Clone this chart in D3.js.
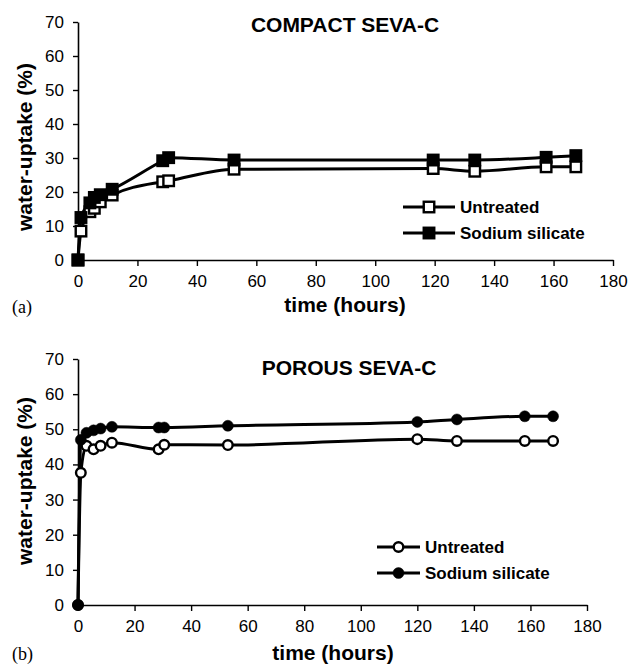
<!DOCTYPE html>
<html>
<head>
<meta charset="utf-8">
<script src="https://cdn.jsdelivr.net/npm/d3@7/dist/d3.min.js"></script>
<style>
  html, body { margin: 0; padding: 0; background: #fff; }
  svg { display: block; }
  text { fill: #000; }
</style>
</head>
<body>
<svg id="chart" width="631" height="664"></svg>
<script>
// ---------- data ----------
const seriesNames = ["Untreated", "Sodium silicate"];

const timeCompact = [0, 1, 4, 5.5, 7.5, 11.5, 28.5, 30.5, 52.5, 119.5, 133.5, 157.5, 167.5];
const compactUntreated = [0, 8.5, 14.2, 15.2, 17.1, 19.1, 23.0, 23.3, 26.7, 26.9, 26.1, 27.4, 27.4];
const compactSilicate  = [0, 12.5, 16.8, 18.4, 19.2, 20.8, 29.2, 30.1, 29.4, 29.4, 29.4, 30.2, 30.7];

const timePorous = [0, 1, 3, 5.5, 8, 12, 28.5, 30.5, 53, 120, 134, 158, 168];
const porousUntreated = [0, 37.6, 45.3, 44.3, 45.3, 46.2, 44.3, 45.6, 45.5, 47.2, 46.7, 46.7, 46.7];
const porousSilicate  = [0, 47.0, 49.0, 49.7, 50.2, 50.7, 50.5, 50.5, 51.0, 52.1, 52.8, 53.7, 53.7];

const xTicks = [0, 20, 40, 60, 80, 100, 120, 140, 160, 180];
const yTicks = [0, 10, 20, 30, 40, 50, 60, 70];

const titles = ["COMPACT SEVA-C", "POROUS SEVA-C"];
const panelLabels = ["(a)", "(b)"];
const xTitle = "time (hours)";
const yTitle = "water-uptake (%)";

// ---------- drawing ----------
const svg = d3.select("#chart");
const SANS = "'Liberation Sans', Arial, Helvetica, sans-serif";
const SERIF = "'Liberation Serif', 'Times New Roman', serif";

function squareSym(g, x, y, filled) {
  const s = 10.5;
  g.append("rect")
    .attr("x", x - s / 2).attr("y", y - s / 2)
    .attr("width", s).attr("height", s)
    .attr("fill", filled ? "#000" : "#fff")
    .attr("stroke", "#000").attr("stroke-width", 2.4);
}
function circleSym(g, x, y, filled) {
  g.append("circle")
    .attr("cx", x).attr("cy", y).attr("r", filled ? 5.5 : 4.8)
    .attr("fill", filled ? "#000" : "#fff")
    .attr("stroke", "#000").attr("stroke-width", filled ? 0.5 : 2.4);
}

function panel(cfg) {
  const g = svg.append("g");
  const x = d3.scaleLinear().domain([0, 180]).range([cfg.x0, cfg.x1]);
  const y = d3.scaleLinear().domain([0, 70]).range([cfg.y0, cfg.y1]);

  // axes
  const xAxis = d3.axisBottom(x).tickValues(xTicks).tickSize(6).tickPadding(9).tickSizeOuter(0);
  const yAxis = d3.axisLeft(y).tickValues(yTicks).tickSize(5).tickPadding(9).tickSizeOuter(0);

  const gx = g.append("g").attr("transform", `translate(0,${cfg.y0})`).call(xAxis);
  const gy = g.append("g").attr("transform", `translate(${cfg.x0},0)`).call(yAxis);
  [gx, gy].forEach(a => {
    a.selectAll("path.domain").attr("stroke", "#000").attr("stroke-width", 1.6);
    a.selectAll(".tick line").attr("stroke", "#000").attr("stroke-width", 1.4);
    a.selectAll(".tick text").attr("font-family", SANS).attr("font-size", 17).attr("fill", "#111");
  });

  // lines
  const line = d3.line().x((d, i) => x(cfg.t[i])).y(d => y(d)).curve(d3.curveMonotoneX);
  const data = [cfg.s1, cfg.s2];
  data.forEach(s => {
    g.append("path").datum(s)
      .attr("d", line)
      .attr("fill", "none").attr("stroke", "#000").attr("stroke-width", 3)
      .attr("stroke-linejoin", "round");
  });
  // markers
  const sym = cfg.marker === "square" ? squareSym : circleSym;
  data.forEach((s, k) => {
    s.forEach((v, i) => sym(g, x(cfg.t[i]), y(v), k === 1));
  });

  // legend
  seriesNames.forEach((name, k) => {
    const ly = cfg.legY + k * 26;
    g.append("line").attr("x1", cfg.legX0).attr("x2", cfg.legX1)
      .attr("y1", ly).attr("y2", ly).attr("stroke", "#000").attr("stroke-width", 3);
    sym(g, (cfg.legX0 + cfg.legX1) / 2, ly, k === 1);
    g.append("text").attr("x", cfg.legX1 + 5).attr("y", ly + 6)
      .attr("font-family", SANS).attr("font-weight", "bold").attr("font-size", 17)
      .text(name);
  });

  // titles
  g.append("text").attr("x", cfg.titleX).attr("y", cfg.titleY).attr("text-anchor", "middle")
    .attr("font-family", SANS).attr("font-weight", "bold").attr("font-size", 21).text(cfg.title);
  g.append("text").attr("x", cfg.xTitleX).attr("y", cfg.xTitleY).attr("text-anchor", "middle")
    .attr("font-family", SANS).attr("font-weight", "bold").attr("font-size", 21).text(xTitle);
  g.append("text").attr("transform", `translate(32,${cfg.yTitleY}) rotate(-90)`)
    .attr("text-anchor", "middle")
    .attr("font-family", SANS).attr("font-weight", "bold").attr("font-size", 21).text(yTitle);
  g.append("text").attr("x", 12).attr("y", cfg.labY)
    .attr("font-family", SERIF).attr("font-size", 18).text(cfg.label);
}

panel({
  x0: 78, x1: 613, y0: 260, y1: 22,
  t: timeCompact, s1: compactUntreated, s2: compactSilicate, marker: "square",
  legX0: 403, legX1: 455, legY: 207,
  title: titles[0], titleX: 345, titleY: 32,
  xTitleX: 345, xTitleY: 312, yTitleY: 147,
  label: panelLabels[0], labY: 313
});
panel({
  x0: 78, x1: 587, y0: 605, y1: 359,
  t: timePorous, s1: porousUntreated, s2: porousSilicate, marker: "circle",
  legX0: 377, legX1: 420, legY: 547,
  title: titles[1], titleX: 349, titleY: 375,
  xTitleX: 333, xTitleY: 660, yTitleY: 481,
  label: panelLabels[1], labY: 660
});
</script>
</body>
</html>
